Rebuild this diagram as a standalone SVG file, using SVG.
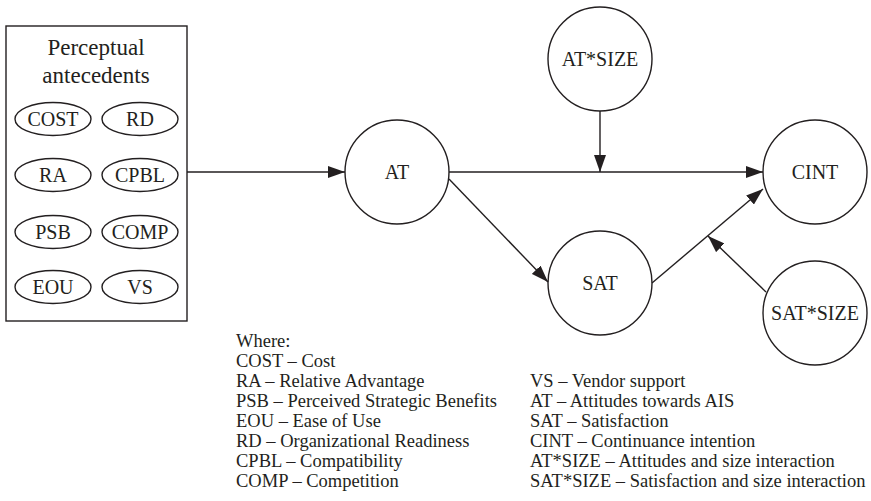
<svg xmlns="http://www.w3.org/2000/svg" width="871" height="501" viewBox="0 0 871 501">
<style>
text{font-family:"Liberation Serif","Times New Roman",serif;fill:#231f20}
.node{fill:#fff;stroke:#231f20;stroke-width:1.4}
.nt{font-size:20px;text-anchor:middle}
.et{font-size:20px;text-anchor:middle}
.title{font-size:23px;text-anchor:middle}
.leg{font-size:18.5px}
.conn line{stroke:#231f20;stroke-width:1.4;fill:none}
</style>
<defs>
<marker id="arr" markerUnits="userSpaceOnUse" markerWidth="17" markerHeight="12" refX="17" refY="6" orient="auto">
<path d="M0,0 L17,6 L0,12 z" fill="#231f20"/>
</marker>
</defs>
<rect width="871" height="501" fill="#fff"/>

<g id="antecedents">
<rect x="6" y="26" width="181" height="295" class="node"/>
<text class="title" x="96" y="55">Perceptual</text>
<text class="title" x="96" y="83">antecedents</text>
<g id="COST"><ellipse cx="53" cy="119" rx="38" ry="16.5" class="node"/><text class="et" x="53" y="126">COST</text></g>
<g id="RD"><ellipse cx="140" cy="119" rx="38" ry="16.5" class="node"/><text class="et" x="140" y="126">RD</text></g>
<g id="RA"><ellipse cx="53" cy="175" rx="38" ry="16.5" class="node"/><text class="et" x="53" y="182">RA</text></g>
<g id="CPBL"><ellipse cx="140" cy="175" rx="38" ry="16.5" class="node"/><text class="et" x="140" y="182">CPBL</text></g>
<g id="PSB"><ellipse cx="53" cy="232" rx="38" ry="16.5" class="node"/><text class="et" x="53" y="239">PSB</text></g>
<g id="COMP"><ellipse cx="140" cy="232" rx="38" ry="16.5" class="node"/><text class="et" x="140" y="239">COMP</text></g>
<g id="EOU"><ellipse cx="53" cy="287" rx="38" ry="16.5" class="node"/><text class="et" x="53" y="294">EOU</text></g>
<g id="VS"><ellipse cx="140" cy="287" rx="38" ry="16.5" class="node"/><text class="et" x="140" y="294">VS</text></g>
</g>

<g id="AT"><circle cx="397" cy="172" r="52" class="node"/><text class="nt" x="397" y="179">AT</text></g>
<g id="ATSIZE"><circle cx="600" cy="59" r="52" class="node"/><text class="nt" x="600" y="66">AT*SIZE</text></g>
<g id="CINT"><circle cx="815" cy="172" r="52" class="node"/><text class="nt" x="815" y="179">CINT</text></g>
<g id="SAT"><circle cx="600" cy="283" r="52" class="node"/><text class="nt" x="600" y="290">SAT</text></g>
<g id="SATSIZE"><circle cx="815" cy="313" r="52" class="node"/><text class="nt" x="815" y="320">SAT*SIZE</text></g>

<g id="connectors" class="conn">
<line x1="187" y1="172" x2="345" y2="172" marker-end="url(#arr)"/>
<line x1="449" y1="172" x2="763" y2="172" marker-end="url(#arr)"/>
<line x1="600" y1="111" x2="600" y2="172" marker-end="url(#arr)"/>
<line x1="449" y1="179" x2="548" y2="282" marker-end="url(#arr)"/>
<line x1="652" y1="283" x2="763" y2="189" marker-end="url(#arr)"/>
<line x1="766" y1="292" x2="708" y2="236" marker-end="url(#arr)"/>
</g>

<g id="legend" class="leg">
<text x="236" y="347">Where:</text>
<text x="236" y="367">COST – Cost</text>
<text x="236" y="387">RA – Relative Advantage</text>
<text x="236" y="407">PSB – Perceived Strategic Benefits</text>
<text x="236" y="427">EOU – Ease of Use</text>
<text x="236" y="447">RD – Organizational Readiness</text>
<text x="236" y="467">CPBL – Compatibility</text>
<text x="236" y="487">COMP – Competition</text>
<text x="530" y="387">VS – Vendor support</text>
<text x="530" y="407">AT – Attitudes towards AIS</text>
<text x="530" y="427">SAT – Satisfaction</text>
<text x="530" y="447">CINT – Continuance intention</text>
<text x="530" y="467">AT*SIZE – Attitudes and size interaction</text>
<text x="530" y="487">SAT*SIZE – Satisfaction and size interaction</text>
</g>
</svg>
